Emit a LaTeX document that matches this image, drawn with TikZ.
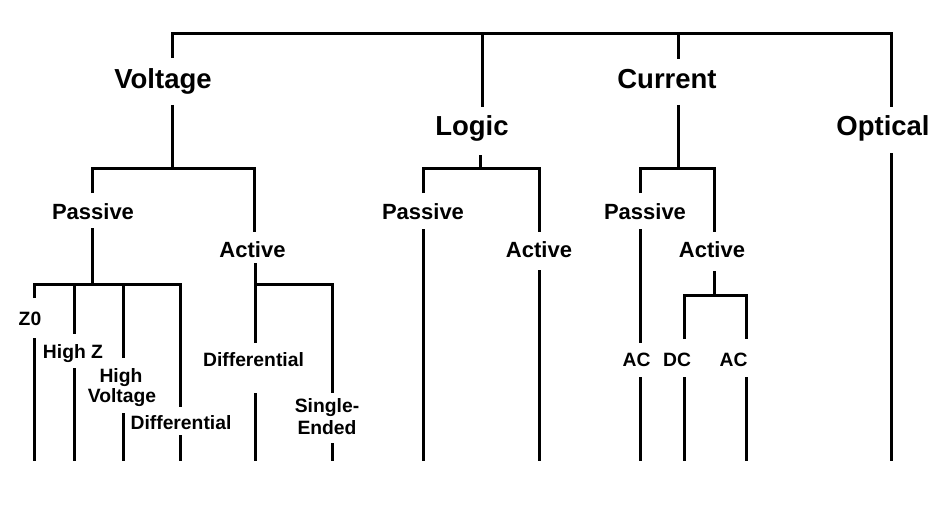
\documentclass[tikz,border=0pt]{standalone}
\usepackage{fontspec}
\setmainfont{Liberation Sans}
\begin{document}
\begin{tikzpicture}[x=1pt,y=-1pt,
  lbl/.style={inner sep=0pt,anchor=base,font=\bfseries},
  big/.style={lbl,font=\fontsize{27.5}{30}\selectfont\bfseries},
  mid/.style={lbl,font=\fontsize{22}{24}\selectfont\bfseries},
  sml/.style={lbl,font=\fontsize{19.3}{20}\selectfont\bfseries,align=center},
  wire/.style={line width=3pt,black,line cap=butt,line join=miter}]
\useasboundingbox[fill=white] (0,0) rectangle (934,508);

% labels
\node[big] (voltage) at (163,88.4) {Voltage};
\node[big] (logic) at (472,135.5) {Logic};
\node[big] (current) at (667,88.4) {Current};
\node[big] (optical) at (883,135.5) {Optical};

\node[mid] (vpass) at (93,219.4) {Passive};
\node[mid] (vact) at (252.5,257.4) {Active};
\node[mid] (lpass) at (423,219.4) {Passive};
\node[mid] (lact) at (539,257.4) {Active};
\node[mid] (cpass) at (645,219.4) {Passive};
\node[mid] (cact) at (712,257.4) {Active};

\node[sml] (z0) at (30,325) {Z0};
\node[sml] (hz) at (73,358) {High Z};
\node[sml,anchor=base] (hv1) at (121,382) {High};
\node[sml,anchor=base] (hv2) at (122,402) {Voltage};
\node[sml] (vdiff) at (181,429) {Differential};
\node[sml] (adiff) at (253.5,366) {Differential};
\node[sml] (se1) at (327,412) {Single-};
\node[sml] (se2) at (327,434) {Ended};
\node[sml] (cac1) at (636.5,366) {AC};
\node[sml] (cdc) at (677,366) {DC};
\node[sml] (cac2) at (733.5,366) {AC};

% junction coordinates
\coordinate (tl) at (172,34);
\coordinate (tr) at (891,34);
\coordinate (tlog) at (482,34);
\coordinate (tcur) at (678,34);

% top bar
\draw[wire] (172,58) -- (tl) -- (tr) -- (891,107);
\draw[wire] (tlog) -- (482,107);
\draw[wire] (tcur) -- (678,59);
\draw[wire] (891,153) -- (891,461);

% Voltage branch
\coordinate (vbl) at (92,168);
\coordinate (vbr) at (254,168);
\draw[wire] (172,105) -- (172,168);
\draw[wire] (92,193) -- (vbl) -- (vbr) -- (254,232);

% Voltage passive
\coordinate (pbl) at (34,284);
\coordinate (pbr) at (180,284);
\draw[wire] (92,228) -- (92,284);
\draw[wire] (34,298) -- (pbl) -- (pbr) -- (180,407);
\draw[wire] (34,338) -- (34,461);
\draw[wire] (74,284) -- (74,334);
\draw[wire] (74,368) -- (74,461);
\draw[wire] (123,284) -- (123,358);
\draw[wire] (123,413) -- (123,461);
\draw[wire] (180,435) -- (180,461);

% Voltage active
\coordinate (abl) at (255,284);
\coordinate (abr) at (332,284);
\draw[wire] (255,263) -- (255,343);
\draw[wire] (abl) -- (abr) -- (332,393);
\draw[wire] (255,393) -- (255,461);
\draw[wire] (332,443) -- (332,461);

% Logic branch
\coordinate (lbl) at (423,168);
\coordinate (lbr) at (539,168);
\draw[wire] (480,155) -- (480,168);
\draw[wire] (423,193) -- (lbl) -- (lbr) -- (539,232);
\draw[wire] (423,229) -- (423,461);
\draw[wire] (539,270) -- (539,461);

% Current branch
\coordinate (cbl) at (640,168);
\coordinate (cbr) at (714,168);
\draw[wire] (678,105) -- (678,168);
\draw[wire] (640,193) -- (cbl) -- (cbr) -- (714,232);
\draw[wire] (640,229) -- (640,343);
\draw[wire] (640,377) -- (640,461);
\coordinate (dbl) at (684,295);
\coordinate (dbr) at (746,295);
\draw[wire] (714,271) -- (714,295);
\draw[wire] (684,339) -- (dbl) -- (dbr) -- (746,339);
\draw[wire] (684,377) -- (684,461);
\draw[wire] (746,377) -- (746,461);
\end{tikzpicture}
\end{document}
